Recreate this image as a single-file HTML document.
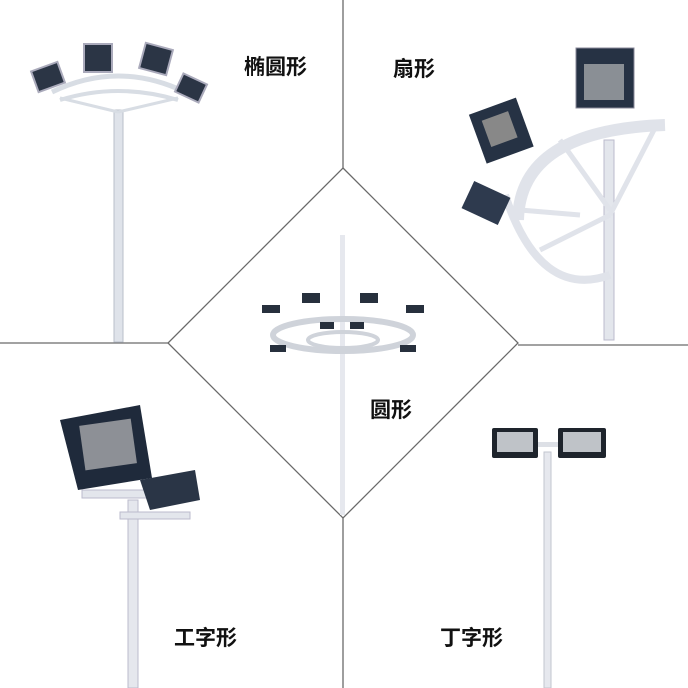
<!DOCTYPE html>
<html><head><meta charset="utf-8"><style>
html,body{margin:0;padding:0;background:#fff;}
svg{display:block}
text{font-family:"Liberation Sans","Noto Sans CJK SC",sans-serif;font-size:21px;fill:#111;font-weight:bold}
</style></head><body>
<svg width="688" height="688" viewBox="0 0 688 688" xmlns="http://www.w3.org/2000/svg">
<rect width="688" height="688" fill="#fff"/>
<g stroke="#6a6a6a" stroke-width="1.3" fill="none">
<line x1="343" y1="0" x2="343" y2="168"/>
<line x1="0" y1="343" x2="168" y2="343"/>
<line x1="518" y1="345" x2="688" y2="345"/>
<line x1="343" y1="518" x2="343" y2="688"/>
<polygon points="343,168 518,343 343,518 168,343"/>
</g>
<!-- top-left ellipse -->
<rect x="114" y="110" width="9" height="232" fill="#dfe3ea" stroke="#b8bfc9"/>
<path d="M52 92 Q118 60 185 92" stroke="#d8dde4" stroke-width="5" fill="none"/>
<path d="M60 100 Q118 82 178 100" stroke="#d8dde4" stroke-width="4" fill="none"/>
<line x1="118" y1="112" x2="60" y2="98" stroke="#d8dde4" stroke-width="3"/>
<line x1="118" y1="112" x2="178" y2="98" stroke="#d8dde4" stroke-width="3"/>
<g fill="#2b3545" stroke="#aab" stroke-width="2">
<rect x="34" y="66" width="28" height="22" transform="rotate(-20 48 77)"/>
<rect x="84" y="44" width="28" height="28"/>
<rect x="142" y="46" width="28" height="26" transform="rotate(15 156 59)"/>
<rect x="178" y="78" width="26" height="20" transform="rotate(25 191 88)"/>
</g>
<!-- top-right fan -->
<rect x="604" y="140" width="10" height="200" fill="#e3e6ec" stroke="#bbc"/>
<path d="M518 220 Q520 130 665 125" stroke="#e0e3ea" stroke-width="12" fill="none"/>
<path d="M505 195 Q540 300 610 275" stroke="#e0e3ea" stroke-width="8" fill="none"/>
<g stroke="#e0e3ea" stroke-width="5">
<line x1="580" y1="215" x2="520" y2="210"/><line x1="610" y1="210" x2="560" y2="140"/>
<line x1="610" y1="215" x2="540" y2="250"/><line x1="610" y1="215" x2="655" y2="128"/>
</g>
<rect x="576" y="48" width="58" height="60" fill="#263244" stroke="#889"/>
<rect x="584" y="64" width="40" height="36" fill="#8a8f95"/>
<rect x="476" y="105" width="50" height="52" fill="#263244" transform="rotate(-20 500 130)"/>
<rect x="486" y="115" width="28" height="28" fill="#888" transform="rotate(-20 500 130)"/>
<rect x="466" y="188" width="40" height="30" fill="#2e3a4e" transform="rotate(25 486 203)"/>
<!-- center circle -->
<rect x="340" y="235" width="5" height="280" fill="#e6e8ee"/>
<ellipse cx="343" cy="335" rx="70" ry="16" stroke="#cfd3da" stroke-width="6" fill="none"/>
<ellipse cx="343" cy="340" rx="35" ry="8" stroke="#cfd3da" stroke-width="4" fill="none"/>
<g fill="#27303d">
<rect x="302" y="293" width="18" height="10"/><rect x="360" y="293" width="18" height="10"/>
<rect x="262" y="305" width="18" height="8"/><rect x="406" y="305" width="18" height="8"/>
<rect x="270" y="345" width="16" height="7"/><rect x="400" y="345" width="16" height="7"/>
<rect x="320" y="322" width="14" height="7"/><rect x="350" y="322" width="14" height="7"/>
</g>
<!-- bottom-left I shape -->
<rect x="128" y="500" width="10" height="188" fill="#e5e7ed" stroke="#bbc"/>
<rect x="82" y="490" width="110" height="8" fill="#e3e6ec" stroke="#bbc"/>
<rect x="120" y="512" width="70" height="7" fill="#e3e6ec" stroke="#bbc"/>
<polygon points="60,420 140,405 152,478 78,490" fill="#1f2a3b"/>
<rect x="82" y="422" width="52" height="45" fill="#8d9096" transform="rotate(-8 108 444)"/>
<polygon points="140,480 195,470 200,500 150,510" fill="#2a3546"/>
<!-- bottom-right T shape -->
<rect x="544" y="452" width="7" height="236" fill="#e6e8ee" stroke="#c2c6cf"/>
<rect x="530" y="442" width="34" height="5" fill="#dde0e6"/>
<rect x="492" y="428" width="46" height="30" rx="2" fill="#1e242c"/>
<rect x="497" y="432" width="36" height="20" fill="#bfc3c8"/>
<rect x="558" y="428" width="48" height="30" rx="2" fill="#1e242c"/>
<rect x="563" y="432" width="38" height="20" fill="#bfc3c8"/>
<!-- labels -->
<text x="244" y="74">椭圆形</text>
<text x="393" y="76">扇形</text>
<text x="370" y="417">圆形</text>
<text x="174" y="645">工字形</text>
<text x="440" y="645">丁字形</text>
</svg>
</body></html>
